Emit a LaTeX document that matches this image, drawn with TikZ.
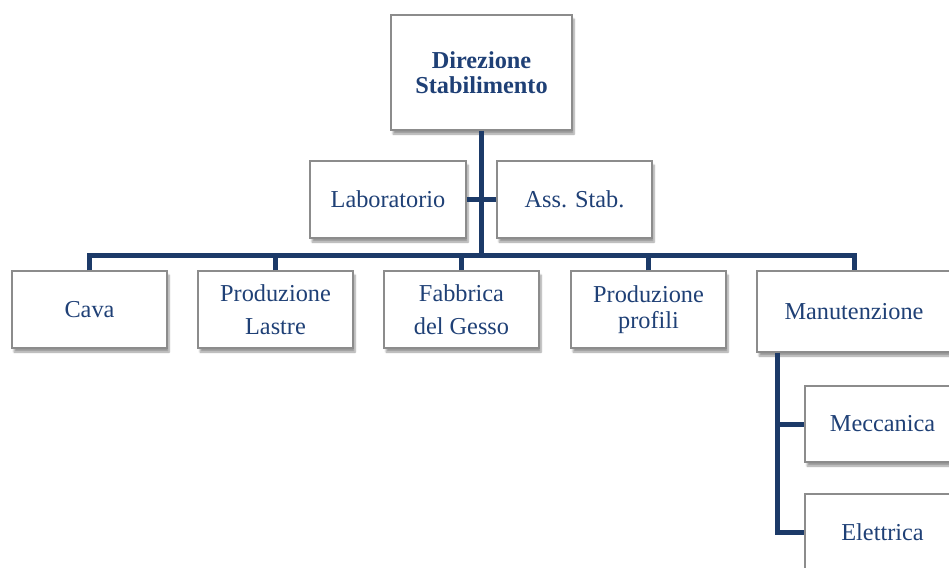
\documentclass[tikz,border=0pt]{standalone}
\usepackage{fontspec}
\setmainfont{Liberation Serif}
\usetikzlibrary{shadows.blur}
\definecolor{navytext}{RGB}{31,64,118}
\definecolor{navyline}{RGB}{28,58,104}
\definecolor{boxedge}{RGB}{140,140,140}
\tikzset{
  orgbox/.style={draw=boxedge, line width=1.3pt, fill=white, rectangle,
    align=center, text=navytext, inner sep=0pt,
    font=\fontsize{24.3}{27}\selectfont,
    blur shadow={shadow xshift=2pt, shadow yshift=-4pt, shadow blur steps=6, shadow opacity=40}},
  conn/.style={draw=navyline, line width=5pt}
}
\begin{document}
\begin{tikzpicture}[x=1pt,y=-1pt]
\useasboundingbox (0,0) rectangle (949,567);
\clip (0,0) rectangle (949,567);
% top of the chart
\node[orgbox, minimum width=181pt, minimum height=115pt, font=\bfseries\fontsize{24.3}{25}\selectfont]
  (dir) at (481.5,72.5) {Direzione\\Stabilimento};
% staff units
\node[orgbox, minimum width=156pt, minimum height=77pt] (lab) at (388,199.5) {Laboratorio};
\node[orgbox, minimum width=155pt, minimum height=77pt] (ass) at (574.5,199.5) {Ass. Stab.};
% departments
\node[orgbox, minimum width=155pt, minimum height=77pt] (cava) at (89.5,309.5) {Cava};
\node[orgbox, minimum width=155pt, minimum height=77pt, font=\fontsize{24.3}{33}\selectfont]
  (lastre) at (275.5,309.5) {Produzione\\Lastre};
\node[orgbox, minimum width=155pt, minimum height=77pt, font=\fontsize{24.3}{33}\selectfont]
  (gesso) at (461.5,309.5) {Fabbrica\\del Gesso};
\node[orgbox, minimum width=155pt, minimum height=77pt, font=\fontsize{24.3}{26}\selectfont]
  (profili) at (648.5,309.5) {Produzione\\profili};
\node[orgbox, minimum width=194pt, minimum height=81pt] (man) at (854,311.5) {Manutenzione};
% maintenance sections
\node[orgbox, minimum width=155pt, minimum height=76pt] (mecc) at (882.5,424) {Meccanica};
\node[orgbox, minimum width=155pt, minimum height=77pt] (elet) at (882.5,532.5) {Elettrica};
% connectors
\coordinate (bar) at (481,255);
\coordinate (spine) at (777,352);
\draw[conn] (dir.south -| bar) -- (bar);
\draw[conn] (lab) -- (ass);
\draw[conn] (cava.north) -- (cava.north |- bar) -- (man.north |- bar) -- (man.north);
\draw[conn] (lastre.north) -- (lastre.north |- bar);
\draw[conn] (gesso.north) -- (gesso.north |- bar);
\draw[conn] (profili.north) -- (profili.north |- bar);
\draw[conn] (man.south -| spine) |- (elet.west);
\draw[conn] (spine |- mecc.west) -- (mecc.west);
\end{tikzpicture}
\end{document}
